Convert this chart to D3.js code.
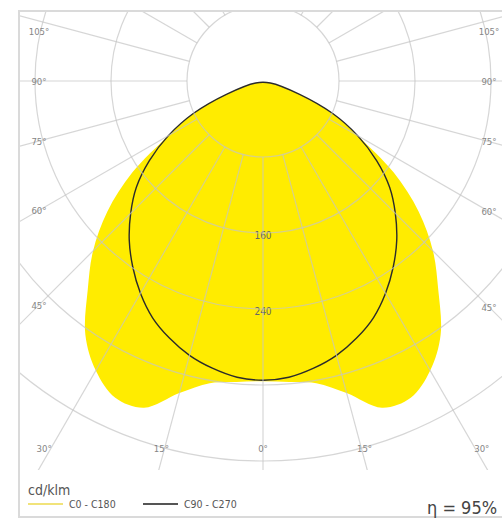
<!DOCTYPE html>
<html>
<head>
<meta charset="utf-8">
<script src="https://cdn.jsdelivr.net/npm/d3@7"></script>
<style>
  html, body { margin: 0; padding: 0; background: #fff; }
  svg { display: block; }
  text { font-family: "DejaVu Sans Condensed", "DejaVu Sans", sans-serif; }
</style>
</head>
<body>
<svg id="chart" width="502" height="518"></svg>
<script>
// Luminous intensity distribution (cd/klm), gamma 0° = straight down, 5° steps
const gammaAngles = d3.range(0, 181, 5);
const planeC0C180 = [316, 318, 323, 340, 366, 368, 352, 326, 287, 253, 214, 168, 115, 81, 41, 8, 0, 0, 0,
                     0, 0, 0, 0, 0, 0, 0, 0, 0, 0, 0, 0, 0, 0, 0, 0, 0, 0];
const planeC90C270 = [315, 313, 307, 299, 288, 275, 258, 239, 219, 197, 174, 146, 115, 81, 41, 8, 0, 0, 0,
                      0, 0, 0, 0, 0, 0, 0, 0, 0, 0, 0, 0, 0, 0, 0, 0, 0, 0];

// Grid and labels
const ringValues = [80, 160, 240, 320, 400];
const ringLabels = [160, 240];
const spokeAngles = d3.range(0, 360, 15);
const angleLabels = [0, 15, 30, 45, 60, 75, 90, 105];
const legendItems = ["C0 - C180", "C90 - C270"];
const unitLabel = "cd/klm";
const efficiencyLabel = "η = 95%";

const svg = d3.select("#chart");
const cx = 263, cy = 81;
const frame = { x: 19, y: 11, w: 495, h: 506 };

const r = d3.scaleLinear().domain([0, 400]).range([0, 380]);
const yellow = "#ffec00";

svg.append("defs").append("clipPath").attr("id", "gridClip")
  .append("rect").attr("x", frame.x).attr("y", frame.y).attr("width", frame.w).attr("height", 459);

const plot = svg.append("g").attr("transform", `translate(${cx},${cy})`);

// closed polar outline: right half (gamma 0..180) then mirrored left half;
// directions with no light are left out so the spline rounds over the top
function outline(values) {
  const pts = gammaAngles.map((g, i) => ({ g, v: values[i] })).filter(d => d.v > 0);
  const right = pts.map(d => ({ a: Math.PI - d.g * Math.PI / 180, v: d.v }));
  const left = pts.slice(1).reverse().map(d => ({ a: Math.PI + d.g * Math.PI / 180, v: d.v }));
  return right.concat(left);
}
const radial = d3.lineRadial()
  .angle(d => d.a)
  .radius(d => r(d.v))
  .curve(d3.curveCatmullRomClosed.alpha(0.5));

// yellow C0-C180 fill
plot.append("path")
  .attr("d", radial(outline(planeC0C180)))
  .attr("fill", yellow)
  .attr("stroke", "none");

// polar grid drawn over the fill
const grid = svg.append("g").attr("clip-path", "url(#gridClip)")
  .append("g").attr("transform", `translate(${cx},${cy})`)
  .attr("fill", "none").attr("stroke", "#c4c4c4").attr("stroke-opacity", 0.7).attr("stroke-width", 1.2);

grid.selectAll("circle").data(ringValues).join("circle")
  .attr("r", d => r(d));

grid.selectAll("line").data(spokeAngles).join("line")
  .attr("x1", d => r(80) * Math.sin(d * Math.PI / 180))
  .attr("y1", d => r(80) * Math.cos(d * Math.PI / 180))
  .attr("x2", d => r(700) * Math.sin(d * Math.PI / 180))
  .attr("y2", d => r(700) * Math.cos(d * Math.PI / 180));

// C90-C270 outline
plot.append("path")
  .attr("d", radial(outline(planeC90C270)))
  .attr("fill", "none")
  .attr("stroke", "#2b2b2b")
  .attr("stroke-width", 1.4);

// ring value labels
plot.selectAll("text.ring").data(ringLabels).join("text")
  .attr("class", "ring")
  .attr("x", 0)
  .attr("y", d => r(d) + 2)
  .attr("text-anchor", "middle")
  .attr("dominant-baseline", "central")
  .attr("font-size", 10)
  .attr("fill", "#666")
  .text(d => d);

// angle labels, placed where each spoke meets the label band
const band = { xL: 39, xR: 489, yHit: 460, yTop: 31, yBot: 448 };
function labelPos(g, side) {
  const dx = side * Math.sin(g * Math.PI / 180), dy = Math.cos(g * Math.PI / 180);
  let t = Infinity;
  if (dx < -1e-9) t = Math.min(t, (band.xL - cx) / dx);
  if (dx > 1e-9) t = Math.min(t, (band.xR - cx) / dx);
  if (dy > 1e-9) t = Math.min(t, (band.yHit - cy) / dy);
  const x = Math.max(band.xL, Math.min(band.xR, cx + t * dx));
  const y = Math.max(band.yTop, Math.min(band.yBot, cy + t * dy));
  return [x, y];
}
const labelData = [];
angleLabels.forEach(g => {
  labelData.push({ g, p: labelPos(g, -1) });
  if (g !== 0) labelData.push({ g, p: labelPos(g, 1) });
});
svg.append("g").selectAll("text").data(labelData).join("text")
  .attr("x", d => d.p[0])
  .attr("y", d => d.p[1])
  .attr("text-anchor", "middle")
  .attr("dominant-baseline", "central")
  .attr("font-size", 9.5)
  .attr("fill", "#858585")
  .text(d => d.g + "°");

// frame
svg.append("rect")
  .attr("x", frame.x).attr("y", frame.y).attr("width", frame.w).attr("height", frame.h)
  .attr("fill", "none").attr("stroke", "#dadada").attr("stroke-width", 2);

// legend
svg.append("text")
  .attr("x", 28).attr("y", 495)
  .attr("font-size", 14).attr("fill", "#555")
  .text(unitLabel);

const legendColors = ["#f1e37a", "#555"];
const lg = svg.append("g").selectAll("g").data(legendItems).join("g")
  .attr("transform", (d, i) => `translate(${28 + i * 115},504)`);
lg.append("line")
  .attr("x1", 0).attr("x2", 35).attr("y1", 0).attr("y2", 0)
  .attr("stroke", (d, i) => legendColors[i]).attr("stroke-width", 2);
lg.append("text")
  .attr("x", 41).attr("y", 0)
  .attr("dominant-baseline", "central")
  .attr("font-size", 10.5).attr("fill", "#555")
  .text(d => d);

svg.append("text")
  .attr("x", 427).attr("y", 507)
  .attr("dominant-baseline", "central")
  .attr("font-family", "'DejaVu Sans', sans-serif")
  .attr("font-size", 18).attr("fill", "#444")
  .text(efficiencyLabel);
</script>
</body>
</html>
